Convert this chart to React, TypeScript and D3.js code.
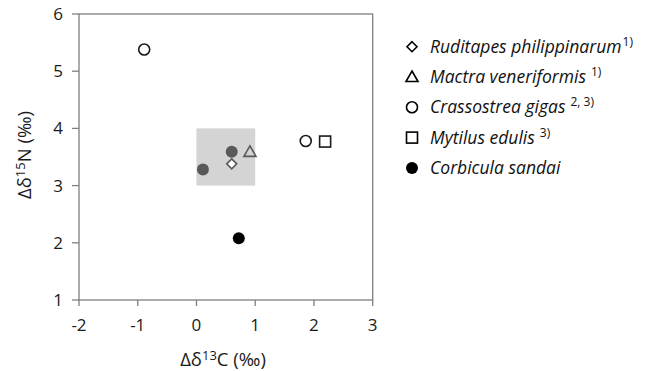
import React from "react";
import * as d3 from "d3";

const xTicks = [-2, -1, 0, 1, 2, 3];
const yTicks = [1, 2, 3, 4, 5, 6];

// grey reference box (x0,x1,y0,y1)
const boxX = [0, 1];
const boxY = [3, 4];

const greyPoints = [
  { x: 0.6, y: 3.59 },
  { x: 0.11, y: 3.28 },
];

const species = ["Ruditapes philippinarum", "Mactra veneriformis", "Crassostrea gigas", "Mytilus edulis", "Corbicula sandai"];
const sups = ["1)", "1)", "2, 3)", "3)", ""];
const symbols = ["diamond", "triangle", "circle", "square", "filled"];

const speciesPoints = [
  { s: 0, x: 0.6, y: 3.38 },
  { s: 1, x: 0.91, y: 3.59 },
  { s: 2, x: -0.89, y: 5.38 },
  { s: 2, x: 1.86, y: 3.78 },
  { s: 3, x: 2.19, y: 3.77 },
  { s: 4, x: 0.72, y: 2.08 },
];

const W = 648, H = 371;
const L = 79, R = 372.7, T = 14, B = 300;
const FONT = "'Open Sans', sans-serif";

function Marker({ type, cx, cy, color }: { type: string; cx: number; cy: number; color: string }) {
  const sw = 1.6;
  if (type === "circle") return <circle cx={cx} cy={cy} r={5.5} fill="white" stroke={color} strokeWidth={sw} />;
  if (type === "filled") return <circle cx={cx} cy={cy} r={6} fill={color} />;
  if (type === "square") return <rect x={cx - 5.5} y={cy - 5.5} width={11} height={11} fill="white" stroke={color} strokeWidth={sw} />;
  if (type === "diamond") {
    const s = 5;
    return <path d={`M${cx},${cy - s}L${cx + s},${cy}L${cx},${cy + s}L${cx - s},${cy}Z`} fill="white" stroke={color} strokeWidth={sw} />;
  }
  const s = 6;
  return <path d={`M${cx},${cy - s}L${cx + s},${cy + s * 0.75}L${cx - s},${cy + s * 0.75}Z`} fill="none" stroke={color} strokeWidth={sw} />;
}

export default function App() {
  const x = d3.scaleLinear().domain([-2, 3]).range([L, R]);
  const y = d3.scaleLinear().domain([1, 6]).range([B, T]);
  const axisColor = "#7f7f7f";
  const pointColors = ["#595959", "#595959", "#1a1a1a", "#1a1a1a", "#000"];

  return (
    <svg width={W} height={H} style={{ position: "absolute", left: 0, top: 0 }}>
      <rect x={x(boxX[0])} y={y(boxY[1])} width={x(boxX[1]) - x(boxX[0])} height={y(boxY[0]) - y(boxY[1])} fill="#d4d4d4" />
      <rect x={L} y={T} width={R - L} height={B - T} fill="none" stroke={axisColor} strokeWidth={1.3} />
      {xTicks.map((t) => (
        <g key={"x" + t}>
          <line x1={x(t)} x2={x(t)} y1={B} y2={B + 6} stroke={axisColor} strokeWidth={1.3} />
          <text x={x(t)} y={B + 31} textAnchor="middle" fontFamily={FONT} fontSize={17} fill="#1a1a1a">{t}</text>
        </g>
      ))}
      {yTicks.map((t) => (
        <g key={"y" + t}>
          <line x1={L - 7} x2={L} y1={y(t)} y2={y(t)} stroke={axisColor} strokeWidth={1.3} />
          <text x={63} y={y(t) + 6} textAnchor="end" fontFamily={FONT} fontSize={17} fill="#1a1a1a">{t}</text>
        </g>
      ))}
      <text x={223} y={366} textAnchor="middle" fontFamily={FONT} fontSize={18.5} fill="#1a1a1a">
        Δδ<tspan fontSize={13} dy={-6}>13</tspan><tspan dy={6}>C (‰)</tspan>
      </text>
      <text transform={`translate(31,155) rotate(-90)`} textAnchor="middle" fontFamily={FONT} fontSize={18.5} fill="#1a1a1a">
        Δδ<tspan fontSize={13} dy={-6}>15</tspan><tspan dy={6}>N (‰)</tspan>
      </text>
      {greyPoints.map((p, i) => (
        <circle key={"g" + i} cx={x(p.x)} cy={y(p.y)} r={6} fill="#595959" />
      ))}
      {speciesPoints.map((p, i) => (
        <Marker key={"p" + i} type={symbols[p.s]} cx={x(p.x)} cy={y(p.y)} color={pointColors[p.s]} />
      ))}
      {species.map((s, i) => {
        const cy = 46.7 + i * 30.3;
        return (
          <g key={"l" + i}>
            <Marker type={symbols[i]} cx={412} cy={cy} color="#000" />
            <text x={430} y={cy + 6} fontFamily={FONT} fontSize={17.5} fontStyle="italic" fill="#111">
              {s}
              {sups[i] && (
                <tspan fontStyle="normal" fontSize={12} dx={i === 0 ? 1 : 5} dy={-7}>{sups[i]}</tspan>
              )}
            </text>
          </g>
        );
      })}
    </svg>
  );
}
